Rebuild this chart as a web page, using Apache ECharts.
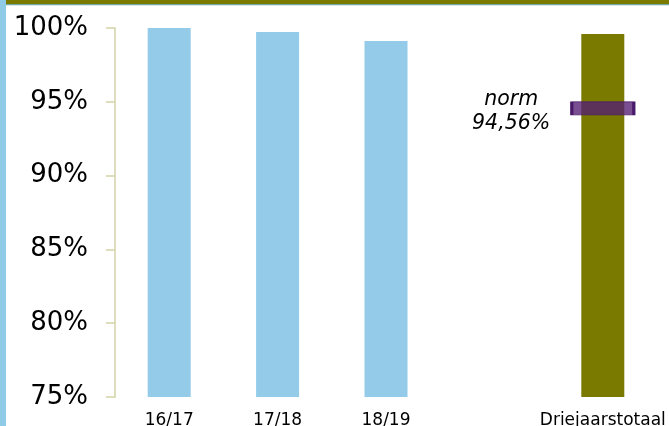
<!DOCTYPE html>
<html>
<head>
<meta charset="utf-8">
<script src="https://cdn.jsdelivr.net/npm/echarts@6/dist/echarts.min.js"></script>
<style>html,body{margin:0;padding:0;background:#fff}#c{width:669px;height:426px}</style>
</head>
<body>
<div id="c"></div>
<script>
var categories = ['16/17', '17/18', '18/19', '', 'Driejaarstotaal'];
var values = [100, 99.73, 99.12, null, 99.6];
var barColors = ['#93cbe8', '#93cbe8', '#93cbe8', '#93cbe8', '#7a7a00'];
var normValue = 94.56;
var normLabel = ['norm', '94,56%'];
var yTicks = [75, 80, 85, 90, 95, 100];

var chart = echarts.init(document.getElementById('c'));
chart.setOption({
  animation: false,
  backgroundColor: '#ffffff',
  graphic: [
    { type: 'rect', shape: { x: 0, y: 0, width: 6, height: 426 }, style: { fill: '#8fcae6' }, z: 10 },
    { type: 'rect', shape: { x: 6, y: 0, width: 663, height: 4 }, style: { fill: '#7a7a00' }, z: 10 },
    { type: 'rect', shape: { x: 6, y: 4, width: 663, height: 1.2 }, style: { fill: '#6fa9a3' }, z: 10 }
  ],
  grid: { left: 115, right: 12, top: 28, bottom: 29, containLabel: false, outerBoundsMode: 'none' },
  xAxis: {
    type: 'category',
    data: categories,
    axisLine: { show: false },
    axisTick: { show: false },
    axisLabel: { color: '#000', fontFamily: 'DejaVu Sans', fontSize: 17, margin: 15, interval: 0 }
  },
  yAxis: {
    type: 'value',
    min: yTicks[0],
    max: yTicks[yTicks.length - 1],
    interval: 5,
    axisLine: { show: true, lineStyle: { color: '#d3d3a8', width: 1.5 } },
    axisTick: { show: true, length: 9, lineStyle: { color: '#d3d3a8', width: 1.5 } },
    splitLine: { show: false },
    axisLabel: { color: '#000', fontFamily: 'DejaVu Sans', fontSize: 26, margin: 27, formatter: '{value}%' }
  },
  series: [
    {
      type: 'bar',
      barWidth: 43,
      data: values.map(function (v, i) { return { value: v, itemStyle: { color: barColors[i] } }; })
    },
    {
      type: 'scatter',
      symbol: 'rect',
      symbolSize: [62, 13],
      z: 5,
      itemStyle: { color: 'rgba(85,30,115,0.78)', borderColor: '#4a1a6a', borderWidth: 1.5, opacity: 1 },
      label: {
        show: true,
        position: 'left',
        distance: 16,
        offset: [0, 3],
        color: '#000',
        formatter: '{a|' + normLabel[0] + '}\n{a|' + normLabel[1] + '}',
        rich: {
          a: { width: 86, align: 'center', fontStyle: 'italic', fontFamily: 'DejaVu Sans', fontSize: 20.5, lineHeight: 24, color: '#000' }
        }
      },
      data: [[categories[4], normValue]]
    }
  ]
});
</script>
</body>
</html>
